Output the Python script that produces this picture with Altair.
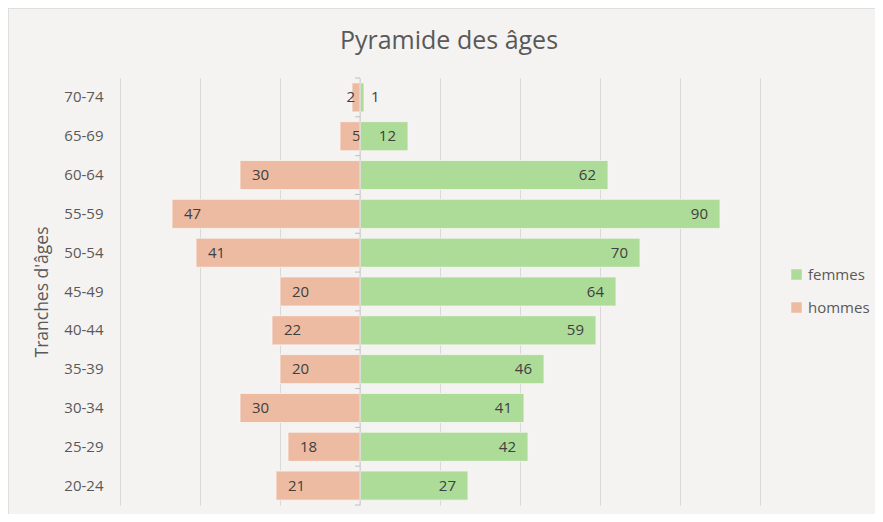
import altair as alt
import pandas as pd

ages = ["70-74", "65-69", "60-64", "55-59", "50-54", "45-49",
        "40-44", "35-39", "30-34", "25-29", "20-24"]
hommes = [2, 5, 30, 47, 41, 20, 22, 20, 30, 18, 21]
femmes = [1, 12, 62, 90, 70, 64, 59, 46, 41, 42, 27]
series = ["femmes", "hommes"]
colors = ["#ADDB98", "#EDBBA2"]
grid_values = [-60, -40, -20, 0, 20, 40, 60, 80, 100]

rows = []
for a, h, f in zip(ages, hommes, femmes):
    rows.append({"age": a, "sexe": "femmes", "n": f, "x": f})
    rows.append({"age": a, "sexe": "hommes", "n": h, "x": -h})
df = pd.DataFrame(rows)
# band boundaries of the category axis (for the small tick marks at zero)
bounds_df = pd.DataFrame({"b": list(range(len(ages) + 1))})

FONT = "Open Sans"
GREY = "#595959"
xscale = alt.Scale(domain=[-60, 100], nice=False, zero=False)
yscale = alt.Scale(domain=ages, paddingInner=0.25, paddingOuter=0.125)

base = alt.Chart(df)

bars = base.mark_bar(stroke="#f7f6f4", strokeWidth=0.8).encode(
    x=alt.X("x:Q", scale=xscale,
            axis=alt.Axis(values=grid_values, labels=False, ticks=False, domain=False,
                          grid=True, gridColor="#d9d9d9", gridWidth=1, title=None)),
    y=alt.Y("age:N", scale=yscale, sort=ages,
            axis=alt.Axis(title="Tranches d'âges", titleFont=FONT, titleFontSize=17.5,
                          titleFontWeight="normal", titleColor=GREY, titlePadding=12,
                          labelFont=FONT, labelFontSize=15, labelColor=GREY,
                          labelPadding=17, ticks=False, domain=False, grid=False)),
    color=alt.Color("sexe:N", scale=alt.Scale(domain=series, range=colors),
                    legend=alt.Legend(title=None, orient="none", legendX=669, legendY=189,
                                      symbolType="square", symbolSize=110,
                                      symbolStrokeWidth=0,
                                      labelFont=FONT, labelFontSize=15, labelColor=GREY,
                                      rowPadding=17, labelOffset=4)),
)

lab_style = dict(font=FONT, fontSize=15, color="#404040", baseline="middle")
enc = dict(x=alt.X("x:Q", scale=xscale), y=alt.Y("age:N", scale=yscale, sort=ages), text="n:Q")

f_big = base.transform_filter("datum.sexe == 'femmes' && datum.n >= 5").mark_text(
    align="right", dx=-12, **lab_style).encode(**enc)
f_small = base.transform_filter("datum.sexe == 'femmes' && datum.n < 5").mark_text(
    align="left", dx=7, **lab_style).encode(**enc)
h_big = base.transform_filter("datum.sexe == 'hommes' && datum.n >= 5").mark_text(
    align="left", dx=12, **lab_style).encode(**enc)
h_small = base.transform_filter("datum.sexe == 'hommes' && datum.n < 5").mark_text(
    align="right", dx=3, **lab_style).encode(**enc)

main = alt.layer(bars, f_big, f_small, h_big, h_small)

zero_line = alt.Chart(pd.DataFrame({"z": [0]})).mark_rule(
    color="#d0d0d0", strokeWidth=1).encode(x=alt.X("z:Q", scale=xscale))

ticks = alt.Chart(bounds_df).mark_rule(color="#bfbfbf", strokeWidth=1).encode(
    y=alt.Y("b:Q", scale=alt.Scale(domain=[0, len(ages)], nice=False, zero=False), axis=None),
    x=alt.datum(-1.25, scale=xscale), x2=alt.datum(0),
)

frame = alt.Chart(pd.DataFrame({"k": [0]})).mark_rect(
    fill=None, stroke="#d9d9d9", strokeWidth=1.5).encode(
    x=alt.value(-112), x2=alt.value(640 + 140),
    y=alt.value(-70), y2=alt.value(427 + 30))

chart = alt.layer(main, zero_line, ticks, frame).resolve_scale(y="independent").properties(
    width=640, height=427,
    title=alt.TitleParams("Pyramide des âges", font=FONT, fontSize=25, fontWeight="normal",
                          color=GREY, anchor="middle", dx=9, offset=-67,
                          baseline="alphabetic"),
    padding={"left": 112, "top": 70, "right": 115, "bottom": 9},
    autosize=alt.AutoSizeParams(type="none"),
    background="#f4f3f1",
).configure_view(stroke=None)

chart.save("out.html", embed_options={"renderer": "svg", "actions": False})
